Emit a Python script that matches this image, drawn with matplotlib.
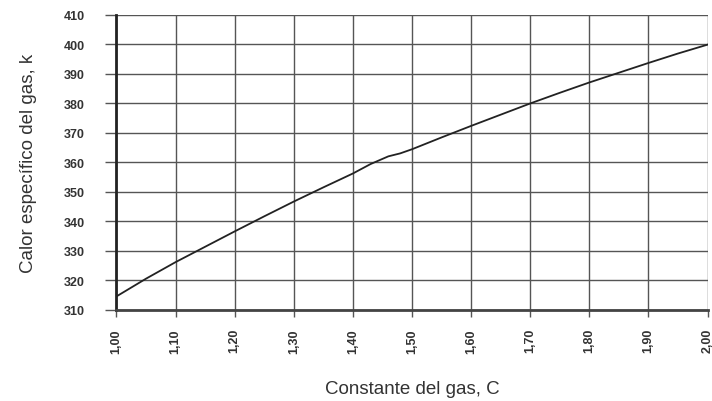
import matplotlib
matplotlib.use("Agg")
import matplotlib.pyplot as plt
from matplotlib.ticker import FixedLocator

plt.rcParams['font.family'] = ['Liberation Sans', 'DejaVu Sans']

## datos
constante_c = [1.00, 1.05, 1.10, 1.15, 1.20, 1.25, 1.30, 1.35, 1.40, 1.43,
               1.46, 1.48, 1.50, 1.55, 1.60, 1.65, 1.70, 1.75, 1.80, 1.85,
               1.90, 1.95, 2.00]
calor_k = [314.6, 320.6, 326.2, 331.4, 336.6, 341.7, 346.7, 351.5, 356.2, 359.4,
           362.0, 363.0, 364.4, 368.4, 372.3, 376.1, 379.9, 383.5, 387.0, 390.3,
           393.6, 396.8, 399.8]

xticks = [1.0, 1.1, 1.2, 1.3, 1.4, 1.5, 1.6, 1.7, 1.8, 1.9, 2.0]
xlabels = ["1,00", "1,10", "1,20", "1,30", "1,40", "1,50", "1,60", "1,70",
           "1,80", "1,90", "2,00"]
yticks = [310, 320, 330, 340, 350, 360, 370, 380, 390, 400, 410]

fig = plt.figure(figsize=(7.12, 4.02), dpi=100)
ax = fig.add_axes([0.1636, 0.2264, 0.8301, 0.735])

ax.plot(constante_c, calor_k, color="#222222", lw=1.3)

ax.set_xlim(1.0, 2.0)
ax.set_ylim(310, 410)
ax.xaxis.set_major_locator(FixedLocator(xticks))
ax.set_xticklabels(xlabels, rotation=90, fontsize=9, fontweight="bold",
                   color="#333333")
ax.yaxis.set_major_locator(FixedLocator(yticks))
ax.set_yticklabels([str(v) for v in yticks], fontsize=9, fontweight="bold",
                   color="#333333")

ax.grid(True, color="#555555", lw=1.0)
# longitudes en puntos (px * 0.72)
ax.tick_params(axis="x", length=5, width=1.0, color="#555555", pad=8)
ax.tick_params(axis="y", length=8, width=1.0, color="#555555", pad=15)

for s in ["top", "right"]:
    ax.spines[s].set_visible(False)
ax.spines["left"].set_linewidth(2.0)
ax.spines["bottom"].set_linewidth(2.0)
ax.spines["left"].set_color("#222222")
ax.spines["bottom"].set_color("#444444")

ax.set_xlabel("Constante del gas, C", fontsize=13.5, color="#333333", labelpad=20)
ax.set_ylabel("Calor específico del gas, k", fontsize=13.5, color="#333333",
              labelpad=19)

fig.savefig("out.png", dpi=100)
